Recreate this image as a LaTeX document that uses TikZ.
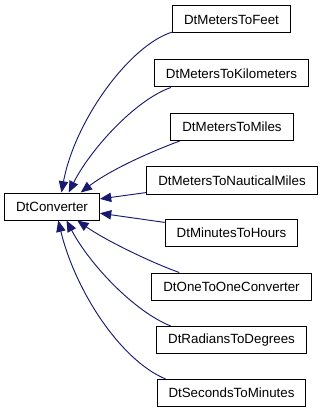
\documentclass[tikz,border=0pt]{standalone}
\usepackage{fontspec}
\setmainfont{Liberation Sans}
\usetikzlibrary{arrows.meta}
\definecolor{edgeblue}{RGB}{25,25,112}
\tikzset{
  cls/.style={draw, line width=0.75pt, minimum height=20.25pt, inner xsep=8.6pt,
    font=\fontsize{10pt}{12pt}\selectfont},
  inh/.style={edgeblue, line width=0.7pt, -{Triangle[length=8.5pt,width=7pt]}}
}
\begin{document}
\begin{tikzpicture}[inner sep=0pt]
\def\u{0.75pt}
\useasboundingbox (0, 0) rectangle (323*\u, -413*\u);

\node [cls] (conv) at (52*\u, -206.5*\u) {DtConverter};
\node [cls] (feet) at (231.5*\u, -19.5*\u) {DtMetersToFeet};
\node [cls] (km) at (231.5*\u, -73.5*\u) {DtMetersToKilometers};
\node [cls] (miles) at (232*\u, -127*\u) {DtMetersToMiles};
\node [cls] (naut) at (232*\u, -180.5*\u) {DtMetersToNauticalMiles};
\node [cls] (hours) at (231.5*\u, -233*\u) {DtMinutesToHours};
\node [cls] (oneone) at (231.5*\u, -286.5*\u) {DtOneToOneConverter};
\node [cls] (degrees) at (231.5*\u, -340*\u) {DtRadiansToDegrees};
\node [cls] (minutes) at (231.5*\u, -393*\u) {DtSecondsToMinutes};

% inheritance arrows, child to base
\draw [inh] (feet.192) .. controls (130*\u, -45*\u) and (75*\u, -120*\u) .. (conv.56);
\draw [inh] (km.193) .. controls (135*\u, -100*\u) and (90*\u, -150*\u) .. (conv.40);
\draw [inh] (miles.195) .. controls (150*\u, -152*\u) and (110*\u, -170*\u) .. (conv.26);
\draw [inh] (naut.188) -- (conv.9);
\draw [inh] (hours.171) -- (conv.-8);
\draw [inh] (oneone.165) .. controls (150*\u, -262*\u) and (105*\u, -240*\u) .. (conv.-29);
\draw [inh] (degrees.167) .. controls (135*\u, -312*\u) and (90*\u, -265*\u) .. (conv.-44);
\draw [inh] (minutes.168) .. controls (120*\u, -360*\u) and (75*\u, -290*\u) .. (conv.-66);
\end{tikzpicture}
\end{document}
